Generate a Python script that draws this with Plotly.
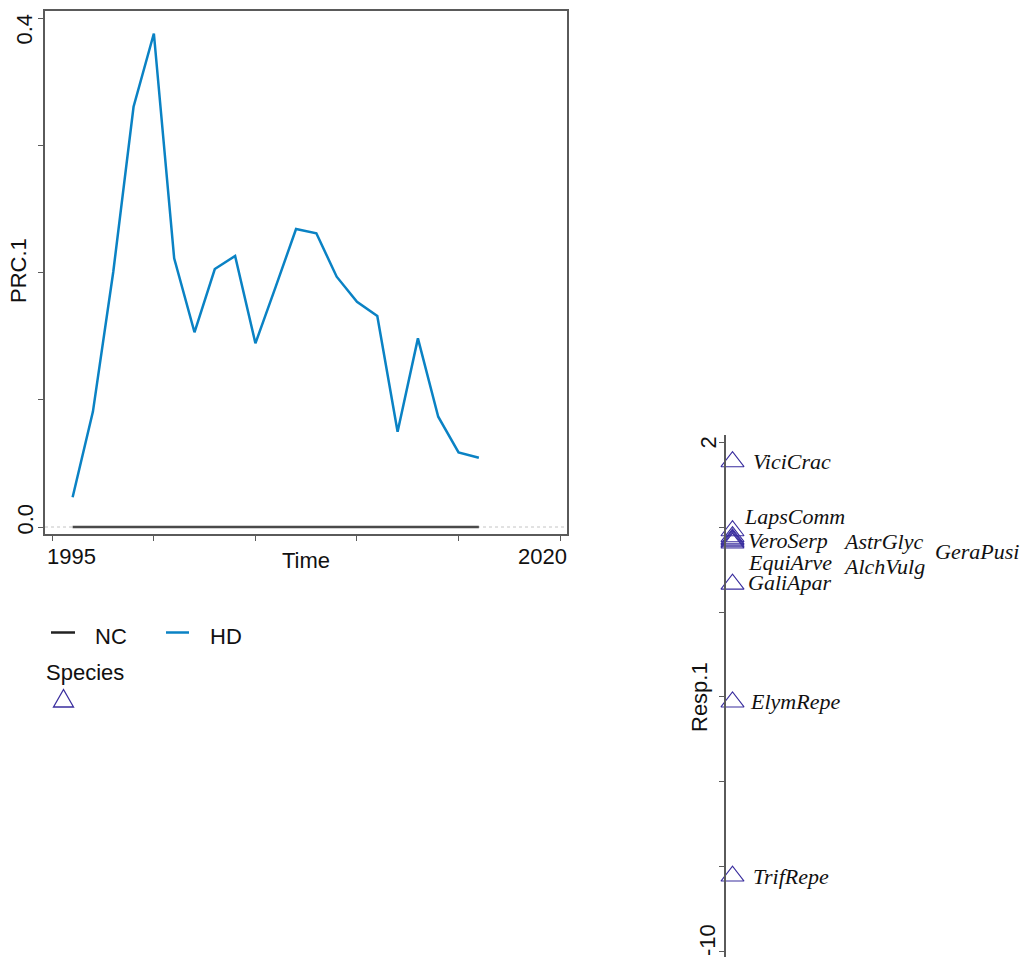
import plotly.graph_objects as go

# ---------------- data ----------------
years = [1996, 1997, 1998, 1999, 2000, 2001, 2002, 2003, 2004, 2005, 2006,
         2007, 2008, 2009, 2010, 2011, 2012, 2013, 2014, 2015, 2016]
hd_values = [0.0234, 0.0907, 0.2005, 0.3304, 0.388, 0.2112, 0.1531, 0.2028,
             0.2131, 0.1444, 0.189, 0.2343, 0.2309, 0.1968, 0.1771, 0.1659,
             0.0749, 0.1483, 0.0867, 0.0587, 0.0545]
nc_values = [0.0, 0.0, 0.0, 0.0, 0.0, 0.0, 0.0, 0.0, 0.0, 0.0, 0.0,
             0.0, 0.0, 0.0, 0.0, 0.0, 0.0, 0.0, 0.0, 0.0, 0.0]

species = ["ViciCrac", "LapsComm", "VeroSerp", "AstrGlyc", "GeraPusi",
           "EquiArve", "AlchVulg", "GaliApar", "ElymRepe", "TrifRepe"]
species_scores = [1.55, -0.08, -0.22, -0.27, -0.30, -0.34, -0.37, -1.34, -4.12, -8.23]
# label placement (collision-avoided positions, like vegan's linestack)
label_y = [1.55, 0.25, -0.32, -0.345, -0.56, -0.84, -0.935, -1.31, -4.10, -8.23]
label_dx = [19.5, 10.5, 14.5, 109.5, 201.5, 14.5, 109.5, 14.5, 16.5, 19.5]

x_ticks = [1995, 2000, 2005, 2010, 2015, 2020]
x_ticklabels = {1995: "1995", 2020: "2020"}
y_ticks = [0.0, 0.1, 0.2, 0.3, 0.4]
y_ticklabels = {0.0: "0.0", 0.4: "0.4"}
y2_ticks = [2, 0, -2, -4, -6, -8, -10]
y2_ticklabels = {2: "2", -10: "-10"}

# ---------------- style ----------------
W, H = 1029, 959
SANS = "Liberation Sans, Arial, sans-serif"
SERIF = "Liberation Serif, Times New Roman, serif"
BLUE = "#0a82c4"
NC_COL = "#4a4a4a"
TRI = "#3a2e9e"
AX = "#5a5a5a"
FS = 22
TXT = "#111"


def px(x):
    return x / W


def py(y):
    return 1 - y / H


fig = go.Figure()

fig.add_trace(go.Scatter(x=years, y=nc_values, mode="lines", name="NC",
                         line=dict(color=NC_COL, width=2.5), xaxis="x", yaxis="y",
                         showlegend=False))
fig.add_trace(go.Scatter(x=years, y=hd_values, mode="lines", name="HD",
                         line=dict(color=BLUE, width=2.5), xaxis="x", yaxis="y",
                         showlegend=False))

# species stack
fig.add_trace(go.Scatter(x=[0] * len(species), y=species_scores, mode="markers",
                         marker=dict(symbol="triangle-up-open", size=20, color=TRI,
                                     line=dict(width=1.1, color=TRI)),
                         xaxis="x2", yaxis="y2", showlegend=False))

annotations = []
for name, ly, dx in zip(species, label_y, label_dx):
    annotations.append(dict(x=dx, y=ly, xref="x2", yref="y2", text="<i>" + name + "</i>",
                            showarrow=False, xanchor="left", yanchor="middle",
                            borderpad=0,
                            font=dict(family=SERIF, size=FS, color=TXT)))


def lab(text, x, y, angle=0, anchor="center"):
    return dict(x=px(x), y=py(y), xref="paper", yref="paper", text=text,
                textangle=angle, xanchor=anchor, yanchor="middle", showarrow=False,
                font=dict(family=SANS, size=FS, color=TXT))


# tick labels (base-R style: edge labels kept inside the panel extent)
annotations += [
    lab(x_ticklabels[1995], 71, 556),
    lab(x_ticklabels[2020], 542, 556),
    lab(y_ticklabels[0.0], 24.5, 519, -90),
    lab(y_ticklabels[0.4], 24.5, 29, -90),
    lab(y2_ticklabels[2], 708, 442.5, -90),
    lab(y2_ticklabels[-10], 707, 940, -90),
]

# axis titles
annotations += [
    lab("PRC.1", 18, 271, -90),
    lab("Time", 306, 560),
    lab("Resp.1", 699, 697, -90),
]

# legend (manual, like base R)
annotations += [
    lab("NC", 93, 636, anchor="left"),
    lab("HD", 208, 636, anchor="left"),
    lab("Species", 44, 672, anchor="left"),
]
shapes = [
    # zero reference line (dotted, across the panel)
    dict(type="line", xref="x domain", yref="y", x0=0, x1=1, y0=0, y1=0,
         line=dict(color="#c4c4c4", width=1, dash="dot"), layer="below"),
    dict(type="line", xref="paper", yref="paper", x0=px(51), x1=px(75), y0=py(632.5), y1=py(632.5),
         line=dict(color="#222", width=2.5)),
    dict(type="line", xref="paper", yref="paper", x0=px(166), x1=px(189), y0=py(632.5), y1=py(632.5),
         line=dict(color=BLUE, width=2.5)),
    dict(type="path", xref="paper", yref="paper",
         path=f"M {px(53.5)},{py(707)} L {px(73.5)},{py(707)} L {px(63.5)},{py(689.5)} Z",
         line=dict(color=TRI, width=1.3)),
]

axis_common = dict(ticks="outside", ticklen=5, tickcolor=AX, tickwidth=1.3,
                   showline=True, linecolor=AX, linewidth=1.6, showgrid=False,
                   zeroline=False, automargin=False, showticklabels=False)

fig.update_layout(
    template="none",
    width=W, height=H,
    margin=dict(l=0, r=0, t=0, b=0, pad=0, autoexpand=False),
    paper_bgcolor="white", plot_bgcolor="white",
    showlegend=False,
    annotations=annotations,
    shapes=shapes,
    xaxis=dict(domain=[px(45), px(567)], range=[1994.64, 2020.34], anchor="y",
               tickvals=x_ticks, mirror=True, **axis_common),
    yaxis=dict(domain=[py(534), py(11)], range=[-0.0055, 0.4057], anchor="x",
               tickvals=y_ticks, mirror=True, **axis_common),
    xaxis2=dict(domain=[0.67, 1.0], range=[-43.07, 296.5], anchor="y2", visible=False,
                automargin=False),
    yaxis2=dict(domain=[py(957), py(435)], range=[-10.14, 2.18], anchor="free",
                position=px(725), tickvals=y2_ticks, **axis_common),
)

fig.write_html("out.html")
